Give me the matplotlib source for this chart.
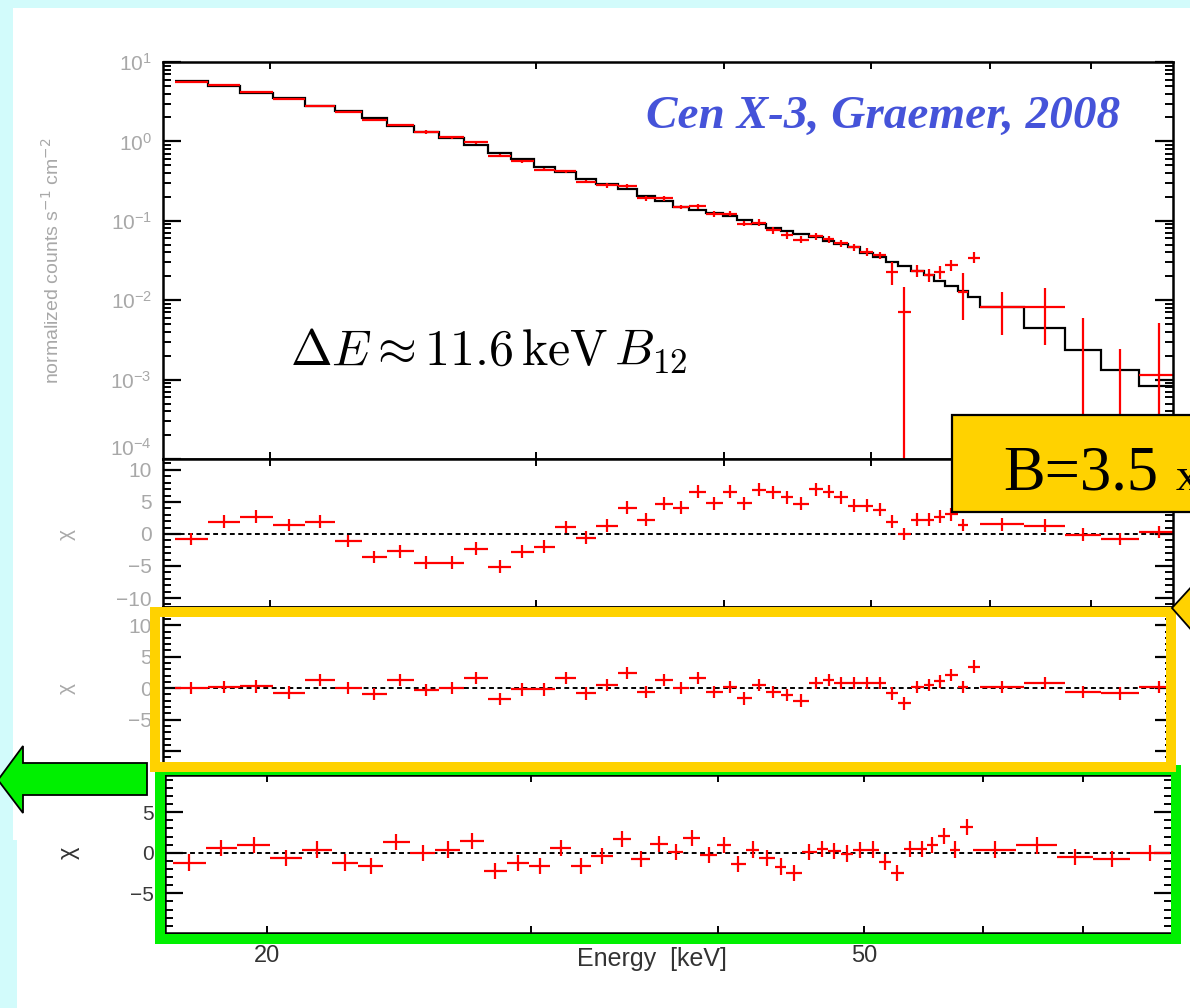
import numpy as np
import matplotlib.pyplot as plt
from matplotlib.patches import Rectangle, Polygon
from matplotlib.ticker import FixedLocator, NullLocator, MultipleLocator, LogLocator, LogFormatterMathtext, NullFormatter

W, H = 1190, 1008

# energy bins (keV)
e_edges = [17.3, 18.2, 19.1, 20.1, 21.1, 22.1, 23.0, 23.9, 24.9, 25.9,
           26.9, 27.9, 28.9, 29.9, 30.9, 31.9, 32.9, 34.0, 35.0, 36.0,
           37.0, 37.9, 38.9, 39.9, 40.8, 41.7, 42.6, 43.6, 44.4, 45.5,
           46.5, 47.3, 48.3, 49.2, 50.2, 51.2, 52.1, 53.2, 54.2, 55.1,
           56.0, 57.1, 58.0, 59.1, 63.2, 67.3, 71.1, 75.3, 80.0]

# model counts (black histogram)
model = [5.77, 5.0, 4.07, 3.52, 2.79, 2.42, 1.97, 1.56, 1.31, 1.10,
         0.90, 0.71, 0.60, 0.48, 0.41, 0.34, 0.29, 0.25, 0.205, 0.177,
         0.149, 0.137, 0.125, 0.115, 0.102, 0.091, 0.081, 0.074, 0.068, 0.063,
         0.056, 0.051, 0.047, 0.039, 0.035, 0.030, 0.0269, 0.0233, 0.0208, 0.0175,
         0.0151, 0.0131, 0.011, 0.0082, 0.0045, 0.00236, 0.00132, 0.00083]

# data counts with error bar ends
flux = [5.56, 5.09, 4.19, 3.46, 2.82, 2.33, 1.88, 1.62, 1.31, 1.12,
        0.97, 0.66, 0.56, 0.44, 0.42, 0.31, 0.282, 0.275, 0.194, 0.191,
        0.150, 0.152, 0.122, 0.123, 0.092, 0.095, 0.076, 0.066, 0.058, 0.064,
        0.059, 0.052, 0.0465, 0.0405, 0.037, 0.0226, 0.0071, 0.0233, 0.0208, 0.0226,
        0.0277, 0.0127, 0.034, 0.0082, 0.0082, 0.0002, 0.0002, 0.00114]
flux_lo = [5.39, 4.94, 4.06, 3.36, 2.74, 2.26, 1.82, 1.57, 1.24, 1.06,
           0.92, 0.63, 0.53, 0.42, 0.40, 0.295, 0.262, 0.256, 0.180, 0.178,
           0.140, 0.141, 0.113, 0.114, 0.086, 0.086, 0.068, 0.059, 0.052, 0.058,
           0.053, 0.047, 0.042, 0.036, 0.033, 0.0155, 1e-5, 0.0195, 0.017, 0.0185,
           0.0235, 0.0056, 0.029, 0.00365, 0.00274, 1e-5, 1e-5, 1e-5]
flux_hi = [5.73, 5.24, 4.32, 3.56, 2.90, 2.40, 1.94, 1.67, 1.38, 1.18,
           1.02, 0.69, 0.59, 0.46, 0.44, 0.325, 0.302, 0.294, 0.208, 0.204,
           0.160, 0.163, 0.131, 0.132, 0.098, 0.104, 0.084, 0.073, 0.064, 0.070,
           0.065, 0.057, 0.051, 0.045, 0.041, 0.0303, 0.0147, 0.028, 0.025, 0.027,
           0.032, 0.0217, 0.040, 0.0127, 0.0141, 0.006, 0.0024, 0.00516]

# residuals (chi) for the three lower panels
chi_a = [-0.8, 1.9, 2.7, 1.4, 1.9, -1.1, -3.6, -2.7, -4.5, -4.5,
         -2.3, -5.1, -2.8, -2.0, 1.1, -0.6, 1.3, 4.1, 2.2, 4.7,
         4.1, 6.6, 4.8, 6.6, 4.8, 6.9, 6.5, 5.7, 4.7, 7.0,
         6.6, 5.7, 4.4, 4.4, 3.8, 1.9, 0.0, 2.2, 2.2, 2.7,
         3.1, 1.4, 4.5, 1.5, 1.3, -0.1, -0.8, 0.3]
chi_b = [0.0, 0.2, 0.3, -0.7, 1.3, 0.0, -0.9, 1.3, -0.3, 0.0,
         1.6, -1.7, -0.2, -0.2, 1.6, -0.8, 0.5, 2.4, -0.6, 1.3,
         0.0, 1.6, -0.6, 0.2, -1.6, 0.5, -0.6, -1.1, -2.0, 0.8,
         1.3, 0.8, 0.8, 0.8, 0.8, -0.8, -2.4, 0.2, 0.5, 1.1,
         2.1, 0.2, 3.4, 0.2, 0.8, -0.6, -0.8, 0.2]
chi_c = [-1.2, 0.6, 1.0, -0.6, 0.4, -1.2, -1.6, 1.3, 0.0, 0.4,
         1.5, -2.2, -1.3, -1.6, 0.6, -1.6, -0.4, 1.7, -0.8, 1.1,
         0.1, 1.8, -0.3, 1.0, -1.4, 0.4, -0.6, -1.7, -2.5, 0.1,
         0.5, 0.2, -0.1, 0.3, 0.4, -1.1, -2.5, 0.5, 0.5, 1.0,
         2.1, 0.4, 3.2, 0.4, 0.9, -0.5, -0.8, 0.0]

x_ticks = [20, 30, 40, 50, 60, 70]
x_ticklabels = ["20", "", "", "50", "", ""]


def fx(px):
    return px / W


def fy(py):
    return 1 - py / H


plt.rcParams['font.family'] = ['Liberation Sans', 'DejaVu Sans']

edges = np.array(e_edges)
cen = np.sqrt(edges[:-1] * edges[1:])
xerr = [cen - edges[:-1], edges[1:] - cen]

fig = plt.figure(figsize=(W / 100, H / 100), dpi=100)
fig.patch.set_facecolor('#D2FBFB')
fig.add_artist(Rectangle((fx(13), fy(840)), 1, (840 - 8) / H, transform=fig.transFigure,
                         facecolor='white', edgecolor='none', zorder=-5))
fig.add_artist(Rectangle((fx(17), 0), 1, fy(840), transform=fig.transFigure,
                         facecolor='white', edgecolor='none', zorder=-5))

grey = '#A8A8A8'


def frame(ax, xlim, lab_color, show_x=False):
    ax.set_xscale('log')
    ax.set_xlim(*xlim)
    ax.xaxis.set_major_locator(FixedLocator(x_ticks))
    ax.xaxis.set_minor_locator(NullLocator())
    if show_x:
        ax.set_xticklabels(x_ticklabels)
    else:
        ax.xaxis.set_major_formatter(NullFormatter())
    for s in ax.spines.values():
        s.set_linewidth(1.8)
    ax.tick_params(axis='x', which='major', direction='in', top=True, bottom=True,
                   length=5, width=1.4, labelsize=17, labelcolor='#333333', pad=9)
    ax.tick_params(axis='y', which='major', direction='in', left=True, right=True,
                   length=13, width=1.6, labelsize=15, labelcolor=lab_color, pad=8)
    ax.tick_params(axis='y', which='minor', direction='in', left=True, right=True,
                   length=6, width=1.4)


def resid(ax, chi, ylim, xlim, lab_color, show_x=False, skip=()):
    ax.axhline(0, color='black', ls=(0, (2.5, 1.8)), lw=1.4, zorder=1)
    ax.errorbar(cen, chi, xerr=xerr, yerr=1, fmt='none', ecolor='red',
                elinewidth=1.6, zorder=2)
    ax.set_ylim(*ylim)
    ax.yaxis.set_major_locator(MultipleLocator(5))
    ax.yaxis.set_minor_locator(MultipleLocator(1))
    ax.yaxis.set_major_formatter(plt.FuncFormatter(
        lambda v, p: '' if round(v) in skip else ('%d' % round(v)).replace('-', '\u2212')))
    frame(ax, xlim, lab_color, show_x)


xlim_top = (16.99, 79.3)
xlim_bot = (17.10, 80.26)

# spectrum panel
ax1 = fig.add_axes([fx(163), fy(459), fx(1173) - fx(163), (459 - 62) / H])
ax1.stairs(model, edges, baseline=None, color='black', lw=1.6, zorder=1)
ax1.errorbar(cen, flux, xerr=xerr,
             yerr=[np.array(flux) - np.array(flux_lo), np.array(flux_hi) - np.array(flux)],
             fmt='none', ecolor='red', elinewidth=1.6, zorder=2)
ax1.set_yscale('log')
ax1.set_ylim(1e-4, 10)
ax1.yaxis.set_major_locator(LogLocator(base=10, numticks=10))
ax1.yaxis.set_minor_locator(LogLocator(base=10, subs=np.arange(2, 10), numticks=20))
log_fmt = LogFormatterMathtext()
ax1.yaxis.set_major_formatter(plt.FuncFormatter(
    lambda v, p: '' if v < 1.5e-4 else log_fmt(v, p)))
frame(ax1, xlim_top, grey)
# lowest decade label sits a little above its tick, as in the original
fig.text(fx(152), fy(449), r'$\mathdefault{10^{-4}}$', ha='right', va='center',
         fontsize=15, color=grey)

ax2 = fig.add_axes([fx(163), fy(607), fx(1173) - fx(163), (607 - 459) / H])
resid(ax2, chi_a, (-11.4, 11.7), xlim_top, grey)

ax3 = fig.add_axes([fx(163), fy(770), fx(1173) - fx(163), (770 - 607) / H])
resid(ax3, chi_b, (-13.0, 12.9), xlim_top, grey, skip=(-10,))

ax4 = fig.add_axes([fx(165), fy(933), fx(1172) - fx(165), (933 - 775) / H])
resid(ax4, chi_c, (-9.9, 9.6), xlim_bot, '#3A3A3A', show_x=True)

# axis labels
fig.text(fx(52), fy(261), 'normalized counts s$^{-1}$ cm$^{-2}$', rotation=90,
         ha='center', va='center', fontsize=14, color=grey)
fig.text(fx(66), fy(534), '\u03c7', rotation=90, ha='center', va='center', fontsize=15, color=grey)
fig.text(fx(66), fy(688), '\u03c7', rotation=90, ha='center', va='center', fontsize=15, color=grey)
fig.text(fx(69), fy(853), '\u03c7', rotation=90, ha='center', va='center', fontsize=17, color='#333333')
fig.text(fx(652), fy(959), 'Energy  [keV]', ha='center', va='center', fontsize=18, color='#333333')

# annotations
fig.text(fx(290), fy(365), r'$\Delta E \approx 11.6\,\mathrm{keV}\,B_{12}$', ha='left', va='baseline',
         fontsize=36, math_fontfamily='cm', color='black')
fig.text(fx(1120), fy(128), 'Cen X-3, Graemer, 2008', ha='right', va='baseline', fontsize=34,
         family='Liberation Serif', weight='bold', style='italic', color='#4553D9')

# frames around residual panels
fig.add_artist(Rectangle((fx(160), fy(939)), fx(1176) - fx(160), (939 - 770) / H,
                         transform=fig.transFigure, fill=False, edgecolor='#00F000', lw=7.2, zorder=8))
fig.add_artist(Rectangle((fx(154.5), fy(767)), fx(1170.5) - fx(154.5), (767 - 612) / H,
                         transform=fig.transFigure, fill=False, edgecolor='#FFD200', lw=7.2, zorder=9))

# green arrow on the left
arrow_px = [(147, 763), (23, 763), (23, 746), (-2, 780), (23, 813), (23, 795), (147, 795)]
fig.add_artist(Polygon([(fx(x), fy(y)) for x, y in arrow_px], closed=True, transform=fig.transFigure,
                       facecolor='#00F000', edgecolor='black', lw=1.3, zorder=10))

# yellow callout on the right
call_px = [(1172, 608), (1194, 584), (1194, 633)]
fig.add_artist(Polygon([(fx(x), fy(y)) for x, y in call_px], closed=True, transform=fig.transFigure,
                       facecolor='#FFD200', edgecolor='black', lw=1.3, zorder=10))

# B field box
fig.add_artist(Rectangle((fx(952), fy(512)), fx(1200) - fx(952), (512 - 415) / H,
                         transform=fig.transFigure, facecolor='#FFD200', edgecolor='black', lw=1.6, zorder=10))
fig.text(fx(1003), fy(490), 'B=3.5', ha='left', va='baseline', fontsize=45,
         family='Liberation Serif', color='black', zorder=11)
fig.text(fx(1176), fy(490), 'x', ha='left', va='baseline', fontsize=34,
         family='Liberation Serif', color='black', zorder=11)

fig.savefig('out.png', dpi=100, facecolor=fig.get_facecolor())
